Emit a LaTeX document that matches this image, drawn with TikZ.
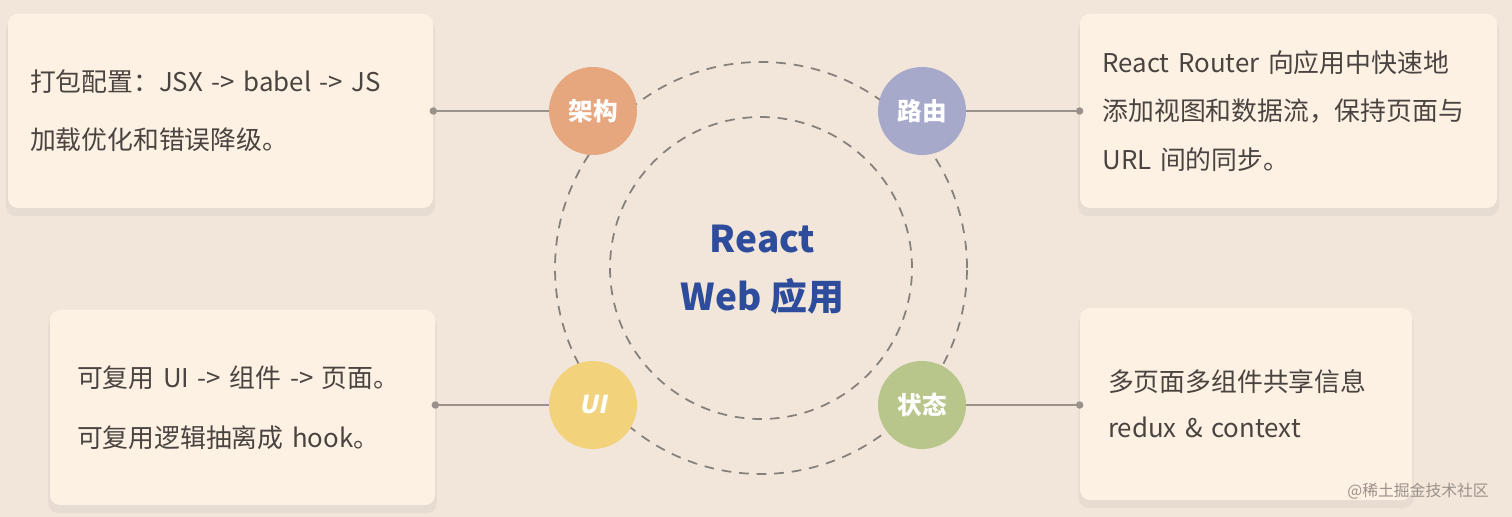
\documentclass[tikz,border=0pt]{standalone}
\usepackage{fontspec}
\setmainfont{Noto Sans CJK SC}
\newfontfamily\slantfont[FakeSlant=0.2]{Noto Sans CJK SC}
\usepackage{tikz}
\usetikzlibrary{shadows}
\usetikzlibrary{positioning}

\definecolor{bgcol}{HTML}{F2E6DA}
\definecolor{boxcol}{HTML}{FDF1E4}
\definecolor{txtcol}{HTML}{4A4440}
\definecolor{linecol}{HTML}{9A918A}
\definecolor{dashcol}{HTML}{85807B}
\definecolor{titlecol}{HTML}{2D4C9C}
\definecolor{archcol}{HTML}{E6A77F}
\definecolor{routecol}{HTML}{A6A9C9}
\definecolor{uicol}{HTML}{F2D27B}
\definecolor{statecol}{HTML}{B8C68C}

\begin{document}
\begin{tikzpicture}[
  infobox/.style={rectangle, rounded corners=0.2cm, fill=boxcol, text=txtcol, align=left,
    drop shadow={opacity=0.09, shadow xshift=0pt, shadow yshift=-0.14cm, shadow scale=1.01}},
  topic/.style={circle, minimum size=1.76cm, inner sep=0pt, text=white,
    font=\fontsize{14pt}{16pt}\selectfont\bfseries},
  ring/.style={draw=dashcol, line width=1pt, dash pattern=on 5.5pt off 4.5pt},
  link/.style={draw=linecol, line width=0.8pt},
  dot/.style={circle, fill=linecol, inner sep=0pt, minimum size=0.15cm}
]
\fill[bgcol] (0, 0) rectangle (30.24, -10.34);
\useasboundingbox (0, 0) rectangle (30.24, -10.34);

% rings
\draw[ring] (15.22, -5.36) circle (4.12);
\draw[ring] (15.22, -5.36) circle (3.02);

\node[text=titlecol, align=center, font=\fontsize{21pt}{33pt}\selectfont\bfseries] (app) at (15.25, -5.4) {React\\Web 应用};

% topics
\node[topic, fill=archcol] (arch) at (11.86, -2.22) {架构};
\node[topic, fill=routecol] (route) at (18.44, -2.22) {路由};
\node[topic, fill=uicol, font=\fontsize{14pt}{16pt}\slantfont\bfseries] (ui) at (11.86, -8.10) {UI};
\node[topic, fill=statecol] (state) at (18.44, -8.10) {状态};

% boxes
\node[infobox, minimum width=8.5cm, minimum height=3.88cm, inner xsep=0.44cm, text width=7.62cm,
  font=\fontsize{14.7pt}{32.9pt}\selectfont] (archbox) at (4.41, -2.22)
  {打包配置：JSX -> babel -> JS\\加载优化和错误降级。};
\node[infobox, minimum width=8.34cm, minimum height=3.88cm, inner xsep=0.45cm, text width=7.44cm,
  font=\fontsize{14.7pt}{27.8pt}\selectfont] (routebox) at (25.77, -2.22)
  {React Router 向应用中快速地\\添加视图和数据流，保持页面与\\URL 间的同步。};
\node[infobox, minimum width=7.7cm, minimum height=3.9cm, inner xsep=0.54cm, text width=6.62cm,
  font=\fontsize{14.7pt}{34pt}\selectfont] (uibox) at (4.85, -8.15)
  {可复用 UI -> 组件 -> 页面。\\可复用逻辑抽离成 hook。};
\node[infobox, minimum width=6.64cm, minimum height=3.84cm, inner xsep=0.56cm, text width=5.52cm,
  font=\fontsize{14.7pt}{26pt}\selectfont] (statebox) at (24.92, -8.08)
  {多页面多组件共享信息\\redux \& context};

% links
\draw[link] (archbox.east |- arch) -- (arch.west);
\draw[link] (route.east) -- (routebox.west |- route);
\draw[link] (uibox.east |- ui) -- (ui.west);
\draw[link] (state.east) -- (statebox.west |- state);
\node[dot] (d1) at (archbox.east |- arch) {};
\node[dot] (d2) at (routebox.west |- route) {};
\node[dot] (d3) at (uibox.east |- ui) {};
\node[dot] (d4) at (statebox.west |- state) {};

\node[anchor=east, text=linecol, font=\fontsize{9pt}{11pt}\selectfont] (mark) at (29.9, -9.82) {@稀土掘金技术社区};
\end{tikzpicture}
\end{document}
